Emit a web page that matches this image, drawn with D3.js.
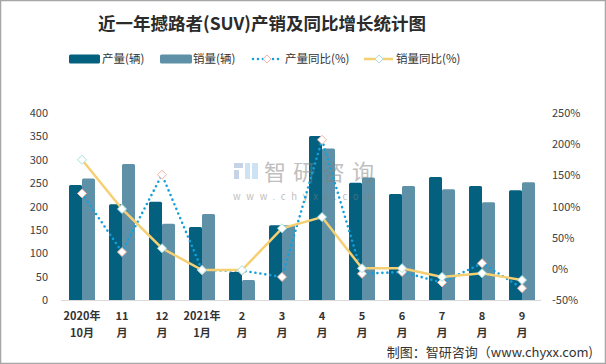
<!DOCTYPE html>
<html><head><meta charset="utf-8">
<script src="https://cdn.jsdelivr.net/npm/d3@7"></script>
<style>
body{margin:0;background:#fff;}
svg{display:block;}
</style></head>
<body>
<svg id="c" width="606" height="364"></svg>
<script>
const categories = ["2020年\n10月","11\n月","12\n月","2021年\n1月","2\n月","3\n月","4\n月","5\n月","6\n月","7\n月","8\n月","9\n月"];
const production = [246, 205, 210, 156, 60, 160, 351, 251, 227, 263, 244, 235];
const sales = [260, 291, 163, 184, 43, 160, 324, 262, 244, 237, 209, 252];
const productionYoY = [121, 27, 151, -2, -3, -13, 207, -8, -5, -22, 9, -31];
const salesYoY = [175, 96, 33, -2, -2, 65, 83, 1, 1, -13, -7, -18];
const leftTicks = [0, 50, 100, 150, 200, 250, 300, 350, 400];
const rightTicks = [-50, 0, 50, 100, 150, 200, 250];
const seriesNames = ["产量(辆)", "销量(辆)", "产量同比(%)", "销量同比(%)"];

const svg = d3.select("#c");
const W = 606, H = 364;
const font = "'Noto Sans CJK SC','Noto Sans',sans-serif";
const cDark = "#03607f", cLight = "#5e91a7", cBlue = "#13a0dc", cYellow = "#f6cf72";

svg.append("rect").attr("x",0.5).attr("y",0.5).attr("width",W-1).attr("height",H-1)
  .attr("fill","#fff").attr("stroke","#a6a6a6").attr("stroke-width",1.5);

// title
svg.append("text").attr("x",262).attr("y",30).attr("text-anchor","middle")
  .attr("font-family","'Noto Sans CJK SC',serif").attr("font-weight","bold")
  .attr("font-size",17.5).attr("fill","#2b2b2b")
  .text("近一年撼路者(SUV)产销及同比增长统计图");

const x = d3.scaleBand().domain(d3.range(categories.length)).range([61,541]).paddingInner(0).paddingOuter(0);
const yL = d3.scaleLinear().domain([0,400]).range([300,113]);
const yR = d3.scaleLinear().domain([-50,250]).range([300,113]);

// bars
const bw = 13;
const g = svg.append("g");
function roundTopBar(x0, y0, w, h, r) {
  r = Math.min(r, h);
  return `M${x0},${y0+h}V${y0+r}Q${x0},${y0} ${x0+r},${y0}H${x0+w-r}Q${x0+w},${y0} ${x0+w},${y0+r}V${y0+h}Z`;
}
production.forEach((v,i)=>{
  const cx = x(i) + x.bandwidth()/2 + 1;
  g.append("path").attr("d", roundTopBar(cx-bw, yL(v), bw, yL(0)-yL(v), 1.5)).attr("fill",cDark);
});
sales.forEach((v,i)=>{
  const cx = x(i) + x.bandwidth()/2 + 1;
  g.append("path").attr("d", roundTopBar(cx, yL(v), bw, yL(0)-yL(v), 1.5)).attr("fill",cLight);
});

// watermark (over bars, semi-transparent)
const wm = svg.append("g").attr("opacity",0.5);
wm.append("rect").attr("x",234).attr("y",163).attr("width",9).attr("height",5).attr("fill","#8fa8cf");
wm.append("rect").attr("x",234).attr("y",170).attr("width",5).attr("height",9).attr("fill","#8fa8cf");
wm.append("rect").attr("x",245).attr("y",163).attr("width",5).attr("height",16).attr("fill","#9cc6e6");
wm.append("rect").attr("x",252).attr("y",163).attr("width",6).attr("height",16).attr("fill","#9cc6e6");
wm.append("text").attr("x",264).attr("y",180).attr("font-family",font).attr("font-size",22)
  .attr("fill","#808080").attr("textLength",110).attr("lengthAdjust","spacing").text("智研咨询");
wm.append("text").attr("x",233).attr("y",200).attr("font-family",font).attr("font-size",9.5)
  .attr("fill","#808080").attr("textLength",140).attr("lengthAdjust","spacing").text("www.chyxx.com");

// axis line
svg.append("line").attr("x1",61).attr("x2",541).attr("y1",300.5).attr("y2",300.5)
  .attr("stroke","#d9d9d9").attr("stroke-width",1);

// left axis labels
const axL = d3.axisLeft(yL).tickValues(leftTicks).tickSize(0).tickPadding(0);
const gl = svg.append("g").attr("transform","translate(48,0)").call(axL);
gl.select(".domain").remove();
gl.selectAll("text").attr("font-family",font).attr("font-size",11).attr("fill","#404040");

const axR = d3.axisRight(yR).tickValues(rightTicks).tickSize(0).tickPadding(0).tickFormat(d=>d+"%");
const gr = svg.append("g").attr("transform","translate(552,0)").call(axR);
gr.select(".domain").remove();
gr.selectAll("text").attr("font-family",font).attr("font-size",11).attr("fill","#404040");

// x labels
categories.forEach((c,i)=>{
  const parts = c.split("\n");
  const cx = x(i) + x.bandwidth()/2 + 1;
  parts.forEach((p,j)=>{
    svg.append("text").attr("x",cx).attr("y",320 + j*17).attr("text-anchor","middle")
      .attr("font-family",font).attr("font-weight","bold").attr("font-size",11)
      .attr("fill","#333").text(p);
  });
});

// lines
const px = i => x(i) + x.bandwidth()/2 + 1;
const line = d3.line().x((d,i)=>px(i)).y(d=>yR(d));
svg.append("path").attr("d", line(productionYoY)).attr("fill","none").attr("stroke",cBlue)
  .attr("stroke-width",2.6).attr("stroke-linecap","round").attr("stroke-dasharray","0 5");
svg.append("path").attr("d", line(salesYoY)).attr("fill","none").attr("stroke",cYellow)
  .attr("stroke-width",2.5);

function diamond(cx, cy, r) {
  return `M${cx},${cy-r}L${cx+r},${cy}L${cx},${cy+r}L${cx-r},${cy}Z`;
}
productionYoY.forEach((v,i)=>{
  svg.append("path").attr("d",diamond(px(i),yR(v),4.5)).attr("fill","#fff").attr("stroke","#f2b5a4").attr("stroke-width",1);
});
salesYoY.forEach((v,i)=>{
  svg.append("path").attr("d",diamond(px(i),yR(v),4.5)).attr("fill","#fff").attr("stroke","#a9dfe0").attr("stroke-width",1);
});

// legend
const lg = svg.append("g");
const ly = 59;
lg.append("rect").attr("x",69).attr("y",ly-4.5).attr("width",31).attr("height",9).attr("rx",1.5).attr("fill",cDark);
lg.append("text").attr("x",102).attr("y",ly+4).attr("font-family",font).attr("font-size",11.5).attr("fill","#333").text(seriesNames[0]);
lg.append("rect").attr("x",160).attr("y",ly-4.5).attr("width",32).attr("height",9).attr("rx",1.5).attr("fill",cLight);
lg.append("text").attr("x",193).attr("y",ly+4).attr("font-family",font).attr("font-size",11.5).attr("fill","#333").text(seriesNames[1]);
lg.append("line").attr("x1",253).attr("x2",282).attr("y1",ly).attr("y2",ly).attr("stroke",cBlue)
  .attr("stroke-width",2.6).attr("stroke-linecap","round").attr("stroke-dasharray","0 5");
lg.append("path").attr("d",diamond(267,ly,4)).attr("fill","#fff").attr("stroke","#f2b5a4");
lg.append("text").attr("x",285).attr("y",ly+4).attr("font-family",font).attr("font-size",11.5).attr("fill","#333").text(seriesNames[2]);
lg.append("line").attr("x1",364).attr("x2",393).attr("y1",ly).attr("y2",ly).attr("stroke",cYellow).attr("stroke-width",2.5);
lg.append("path").attr("d",diamond(379,ly,4)).attr("fill","#fff").attr("stroke","#a9dfe0");
lg.append("text").attr("x",396).attr("y",ly+4).attr("font-family",font).attr("font-size",11.5).attr("fill","#333").text(seriesNames[3]);

// source
svg.append("text").attr("x",593).attr("y",357).attr("text-anchor","end")
  .attr("font-family","'Noto Sans CJK SC',serif").attr("font-size",13).attr("fill","#333")
  .text("制图：智研咨询（www.chyxx.com)");
</script>
</body></html>
